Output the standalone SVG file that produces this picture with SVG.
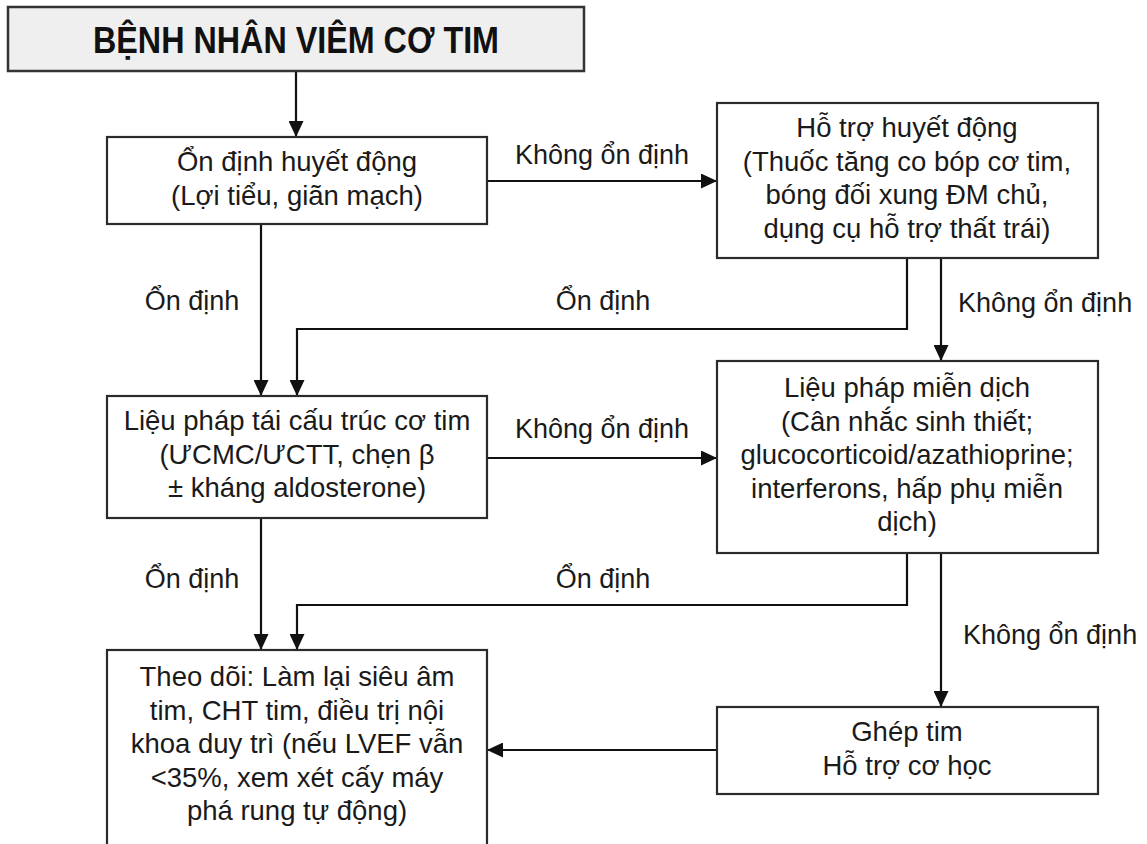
<svg xmlns="http://www.w3.org/2000/svg" width="1147" height="844" viewBox="0 0 1147 844">
  <defs>
    <marker id="arrow" markerUnits="userSpaceOnUse" markerWidth="16" markerHeight="15" refX="16" refY="7.5" orient="auto">
      <path d="M0,0 L16,7.5 L0,15 Z" fill="#111"/>
    </marker>
  </defs>
  <style>
    .box { fill: #ffffff; stroke: #2b2b2b; stroke-width: 2.2; }
    .title-box { fill: #efefef; stroke: #333333; stroke-width: 2.5; }
    .title { font-family: "Liberation Sans", Arial, sans-serif; font-weight: bold; font-size: 36px; fill: #111; text-anchor: middle; }
    .t { font-family: "Liberation Sans", Arial, sans-serif; font-size: 27.5px; fill: #1a1a1a; text-anchor: middle; }
    .lbl { font-family: "Liberation Sans", Arial, sans-serif; font-size: 27px; fill: #1a1a1a; }
    .edge { fill: none; stroke: #111; stroke-width: 2.2; marker-end: url(#arrow); }
  </style>
  <rect width="1147" height="844" fill="#ffffff"/>

  <!-- connectors -->
  <g id="connectors">
    <path class="edge" d="M296,71 V137"/>
    <path class="edge" d="M487,181 H717"/>
    <path class="edge" d="M261,224 V396"/>
    <path class="edge" d="M907,258 V329 H297 V396"/>
    <path class="edge" d="M941,258 V361"/>
    <path class="edge" d="M487,458 H717"/>
    <path class="edge" d="M261,518 V650"/>
    <path class="edge" d="M907,553 V605 H297 V650"/>
    <path class="edge" d="M941,553 V707"/>
    <path class="edge" d="M717,750 H487"/>
  </g>

  <!-- connector labels -->
  <g id="labels">
    <text class="lbl" x="602" y="164" text-anchor="middle">Không ổn định</text>
    <text class="lbl" x="192" y="310" text-anchor="middle">Ổn định</text>
    <text class="lbl" x="603" y="310" text-anchor="middle">Ổn định</text>
    <text class="lbl" x="958" y="312">Không ổn định</text>
    <text class="lbl" x="602" y="438" text-anchor="middle">Không ổn định</text>
    <text class="lbl" x="192" y="588" text-anchor="middle">Ổn định</text>
    <text class="lbl" x="603" y="588" text-anchor="middle">Ổn định</text>
    <text class="lbl" x="963" y="644">Không ổn định</text>
  </g>

  <g id="patient">
    <rect class="title-box" x="8" y="7" width="576" height="64"/>
    <text class="title" x="296" y="53" textLength="406" lengthAdjust="spacingAndGlyphs">BỆNH NHÂN VIÊM CƠ TIM</text>
  </g>

  <g id="stabilize">
    <rect class="box" x="107" y="137" width="380" height="87"/>
    <text class="t" x="297" y="171">Ổn định huyết động</text>
    <text class="t" x="297" y="204.5">(Lợi tiểu, giãn mạch)</text>
  </g>

  <g id="hemodynamic-support">
    <rect class="box" x="717" y="103" width="381" height="155"/>
    <text class="t" x="907" y="137">Hỗ trợ huyết động</text>
    <text class="t" x="907" y="170.5">(Thuốc tăng co bóp cơ tim,</text>
    <text class="t" x="907" y="204">bóng đối xung ĐM chủ,</text>
    <text class="t" x="907" y="237.5">dụng cụ hỗ trợ thất trái)</text>
  </g>

  <g id="remodeling">
    <rect class="box" x="107" y="396" width="380" height="122"/>
    <text class="t" x="297" y="430">Liệu pháp tái cấu trúc cơ tim</text>
    <text class="t" x="297" y="463.5">(ƯCMC/ƯCTT, chẹn β</text>
    <text class="t" x="297" y="497">± kháng aldosterone)</text>
  </g>

  <g id="immunotherapy">
    <rect class="box" x="717" y="361" width="381" height="192"/>
    <text class="t" x="907" y="397">Liệu pháp miễn dịch</text>
    <text class="t" x="907" y="430.5">(Cân nhắc sinh thiết;</text>
    <text class="t" x="907" y="464">glucocorticoid/azathioprine;</text>
    <text class="t" x="907" y="497.5">interferons, hấp phụ miễn</text>
    <text class="t" x="907" y="531">dịch)</text>
  </g>

  <g id="follow-up">
    <rect class="box" x="107" y="650" width="380" height="220"/>
    <text class="t" x="297" y="686">Theo dõi: Làm lại siêu âm</text>
    <text class="t" x="297" y="719.5">tim, CHT tim, điều trị nội</text>
    <text class="t" x="297" y="753">khoa duy trì (nếu LVEF vẫn</text>
    <text class="t" x="297" y="786.5">&lt;35%, xem xét cấy máy</text>
    <text class="t" x="297" y="820">phá rung tự động)</text>
  </g>

  <g id="transplant">
    <rect class="box" x="717" y="707" width="381" height="87"/>
    <text class="t" x="907" y="741">Ghép tim</text>
    <text class="t" x="907" y="774.5">Hỗ trợ cơ học</text>
  </g>
</svg>
